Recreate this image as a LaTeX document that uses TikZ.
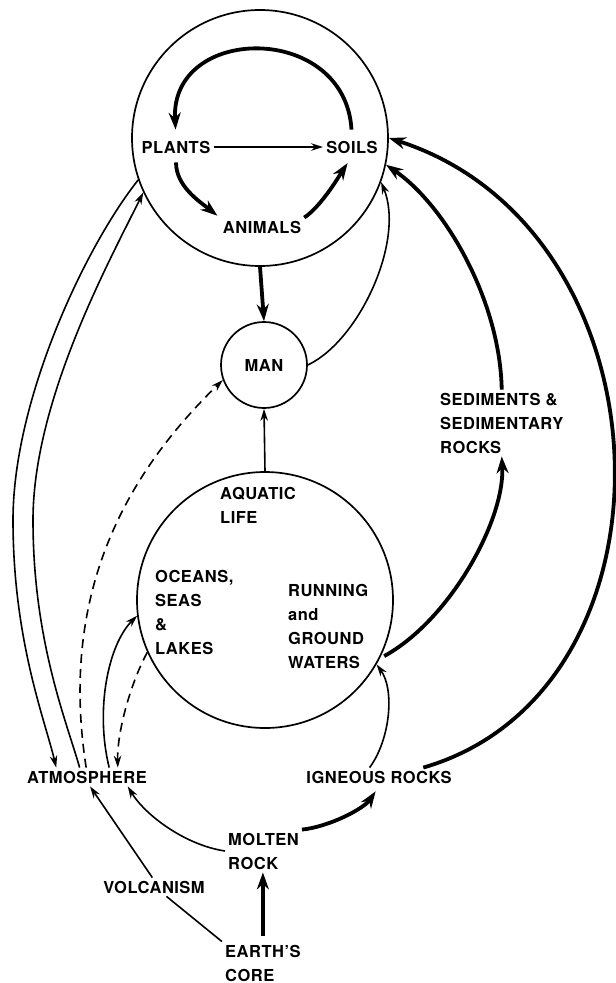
\documentclass[tikz,border=0pt]{standalone}
\usepackage{fontspec}
\setmainfont{TeX Gyre Heros}[LetterSpace=3]
\usetikzlibrary{arrows.meta}

\begin{document}
\begin{tikzpicture}[x=1pt, y=-1pt,
	font=\fontsize{16.5}{24}\selectfont\bfseries,
	lbl/.style={inner sep=3pt, align=left},
	ring/.style={draw, circle, line width=1.7pt, inner sep=0pt},
	flow/.style={line width=1.6pt, -{Stealth[length=12pt,width=7.5pt]}},
	bigflow/.style={line width=3.8pt, -{Stealth[length=17pt,width=12pt]}},
	dashflow/.style={flow, dash pattern=on 9pt off 6pt},
	plain/.style={line width=1.6pt}]
	\useasboundingbox (0,0) rectangle (616,983);
	% The circles
	\node[ring, minimum size=256pt] (biosph) at (260,138) {};
	\node[ring, minimum size=86pt] (man) at (264,365) {MAN};
	\node[ring, minimum size=256pt] (water) at (265,600) {};
	% The labels
	\node[lbl] (plants) at (176,147) {PLANTS};
	\node[lbl] (soils) at (352,147) {SOILS};
	\node[lbl] (animals) at (262,227) {ANIMALS};
	\node[lbl, anchor=west] (sediments) at (437,423) {SEDIMENTS \&\\SEDIMENTARY\\ROCKS};
	\node[lbl, anchor=west] (aquatic) at (217,505) {AQUATIC\\LIFE};
	\node[lbl, anchor=west] (oceans) at (152,612) {OCEANS,\\SEAS\\\&\\LAKES};
	\node[lbl, anchor=west] (running) at (285,626) {RUNNING\\and\\GROUND\\WATERS};
	\node[lbl] (atmo) at (87,777) {ATMOSPHERE};
	\node[lbl] (igneous) at (379,777) {IGNEOUS ROCKS};
	\node[lbl, anchor=west] (molten) at (225,851) {MOLTEN\\ROCK};
	\node[lbl] (volc) at (154,887) {VOLCANISM};
	\node[lbl, anchor=west] (earth) at (222,963) {EARTH'S\\CORE};
	% Inside the biosphere
	\draw[flow] (plants.east) -- (soils.west);
	\draw[bigflow, shorten <=8pt, shorten >=8pt] (soils.north) .. controls (345,22) and (170,24) .. (plants.north);
	\draw[bigflow, shorten <=6pt, shorten >=3pt] (plants.south) .. controls +(0,30) and +(-20,-16) .. (animals.north west);
	\draw[bigflow, shorten >=8pt] (animals.north east) .. controls +(18,-12) and +(-10,15) .. (soils.south);
	\draw[bigflow] (biosph.south) -- (man.north);
	% Man and the soils
	\draw[flow] (man.east) .. controls (360,340) and (405,240) .. (biosph.340);
	\draw[flow] (water.north) -- (man.south);
	% Exchanges with the atmosphere
	\draw[flow] (biosph.199) .. controls (85,247) and (13,400) .. (13,520) .. controls (13,640) and (45,720) .. (atmo.163);
	\draw[flow] (atmo.128) .. controls (66,720) and (33,640) .. (33,520) .. controls (33,400) and (110,260) .. (biosph.205);
	\draw[dashflow] (atmo.95) .. controls (60,600) and (120,480) .. (man.200);
	\draw[flow] (atmo.23) .. controls (95,710) and (108,645) .. (water.187);
	\draw[dashflow] (water.204) .. controls (132,680) and (117,730) .. (atmo.17);
	% Molten rock and volcanism
	\draw[flow] (molten.west) .. controls (185,845) and (145,815) .. (atmo.-13);
	\draw[plain] (earth.north west) -- (volc.-37);
	\draw[flow] (volc.100) -- (atmo.-72);
	\draw[bigflow, shorten <=6pt] (earth.north) -- (earth.north |- molten.south);
	\draw[bigflow, shorten >=6pt] (molten.north east) .. controls +(28,-3) and +(-15,22) .. (igneous.south);
	\draw[flow] (igneous.135) .. controls (390,740) and (395,690) .. (water.330);
	% The rock cycle back to the soils
	\draw[bigflow, shorten <=5pt] (water.333) .. controls (450,620) and (505,520) .. (sediments.south);
	\draw[bigflow] (sediments.north) .. controls (500,300) and (445,205) .. (biosph.348);
	\draw[bigflow] (igneous.12) .. controls (690,690) and (675,230) .. (biosph.east);
\end{tikzpicture}
\end{document}
